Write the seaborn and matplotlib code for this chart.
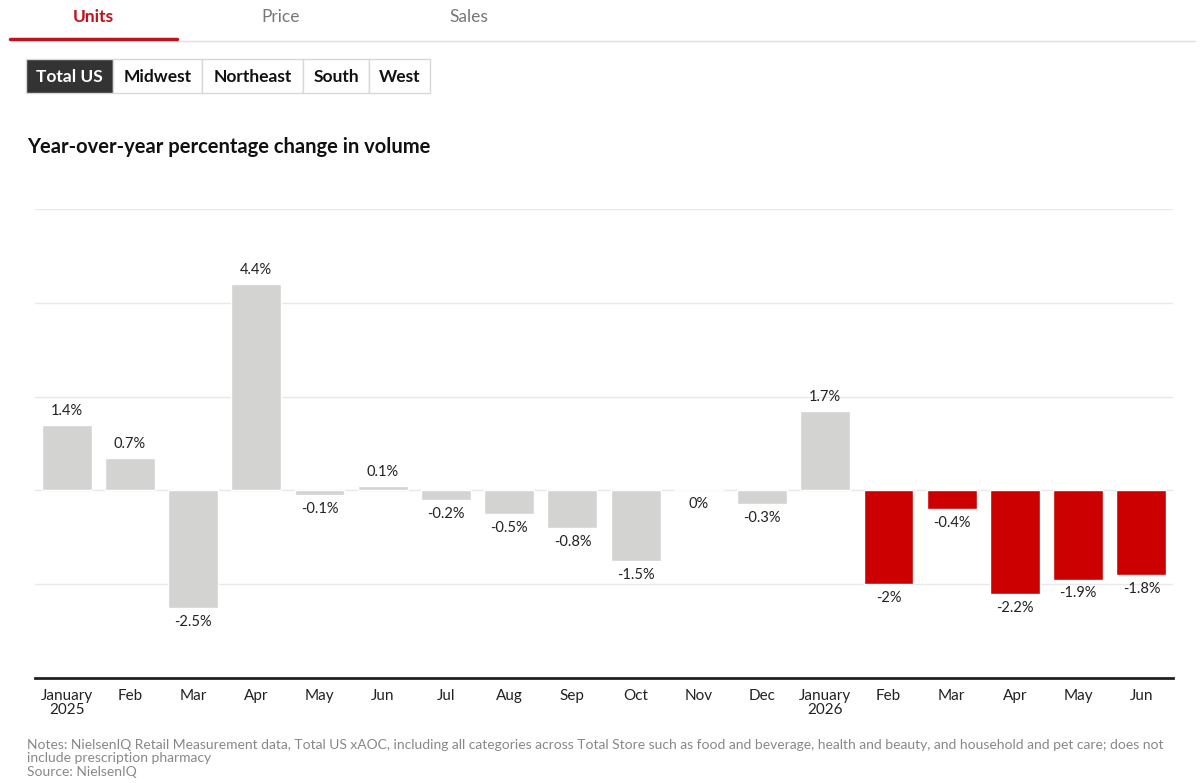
import pandas as pd
import seaborn as sns
import matplotlib.pyplot as plt
from matplotlib.patches import Rectangle
from matplotlib.lines import Line2D

sns.set_theme(style="white")
plt.rcParams['font.family'] = ['Lato', 'DejaVu Sans']

months = ["January\n2025", "Feb", "Mar", "Apr", "May", "Jun", "Jul", "Aug", "Sep",
          "Oct", "Nov", "Dec", "January\n2026", "Feb", "Mar", "Apr", "May", "Jun"]
change = [1.4, 0.7, -2.5, 4.4, -0.1, 0.1, -0.2, -0.5, -0.8,
          -1.5, 0.0, -0.3, 1.7, -2.0, -0.4, -2.2, -1.9, -1.8]
highlight = [False] * 13 + [True] * 5

df = pd.DataFrame({"month": range(len(months)), "change": change,
                   "group": ["recent" if h else "past" for h in highlight]})

fig = plt.figure(figsize=(12, 7.83), dpi=100)
ax = fig.add_axes([35 / 1200, 1 - 678 / 783, 1138 / 1200, (678 - 209) / 783])

sns.barplot(data=df, x="month", y="change", hue="group", dodge=False,
            palette={"past": "#d3d3d1", "recent": "#cc0000"},
            width=0.79, legend=False, ax=ax, saturation=1)

ax.set_ylim(-4, 6)
ax.set_xlim(-0.5, len(months) - 0.5)
ax.set_yticks([-2, 0, 2, 4, 6])
ax.yaxis.grid(True, color="#e8e8e8", linewidth=1)
ax.set_axisbelow(True)
ax.tick_params(axis="y", left=False, labelleft=False)
ax.tick_params(axis="x", bottom=False, labelsize=11, pad=2, colors="#222222")
ax.set_xticks(range(len(months)))
ax.set_xticklabels(months, linespacing=1.0)
ax.set_xlabel("")
ax.set_ylabel("")
for side in ["top", "left", "right"]:
    ax.spines[side].set_visible(False)
ax.spines["bottom"].set_color("#222222")
ax.spines["bottom"].set_linewidth(2)

for i, v in enumerate(change):
    label = f"{v:g}%"
    if v > 0:
        ax.annotate(label, (i, v), xytext=(0, 5), textcoords="offset points",
                    ha="center", va="bottom", fontsize=10.5, color="#222222")
    else:
        ax.annotate(label, (i, v), xytext=(0, -5), textcoords="offset points",
                    ha="center", va="top", fontsize=10.5, color="#222222")

# tabs on top
fig.text(93 / 1200, 1 - 17 / 783, "Units", color="#c0121b", fontsize=12.5,
         fontweight="bold", ha="center", va="center")
fig.text(281 / 1200, 1 - 17 / 783, "Price", color="#777777", fontsize=12.5,
         ha="center", va="center")
fig.text(469 / 1200, 1 - 17 / 783, "Sales", color="#777777", fontsize=12.5,
         ha="center", va="center")
fig.add_artist(Line2D([177 / 1200, 1195 / 1200], [1 - 40.5 / 783] * 2,
                      color="#e0e0e0", linewidth=1))
fig.add_artist(Line2D([10 / 1200, 177 / 1200], [1 - 39 / 783] * 2,
                      color="#c0121b", linewidth=2.5))

# region buttons
buttons = [("Total US", 26, 113), ("Midwest", 113, 202), ("Northeast", 202, 303),
           ("South", 303, 369), ("West", 369, 430)]
for i, (name, x0, x1) in enumerate(buttons):
    active = i == 0
    fig.add_artist(Rectangle((x0 / 1200, 1 - 93 / 783), (x1 - x0) / 1200, 34 / 783,
                             facecolor="#333333" if active else "white",
                             edgecolor="#d8d8d8", linewidth=1))
    fig.text((x0 + x1) / 2 / 1200, 1 - 77 / 783, name, fontsize=12.5, fontweight="bold",
             color="white" if active else "#111111", ha="center", va="center")

fig.text(27 / 1200, 1 - 147 / 783, "Year-over-year percentage change in volume",
         fontsize=14.5, fontweight="bold", color="#111111", va="center")

fig.text(27 / 1200, 1 - 739 / 783,
         "Notes: NielsenIQ Retail Measurement data, Total US xAOC, including all categories across "
         "Total Store such as food and beverage, health and beauty, and household and pet care; does not\n"
         "include prescription pharmacy\nSource: NielsenIQ",
         fontsize=10, color="#888888", va="top", linespacing=1.15)

fig.savefig("out.png", dpi=100)
